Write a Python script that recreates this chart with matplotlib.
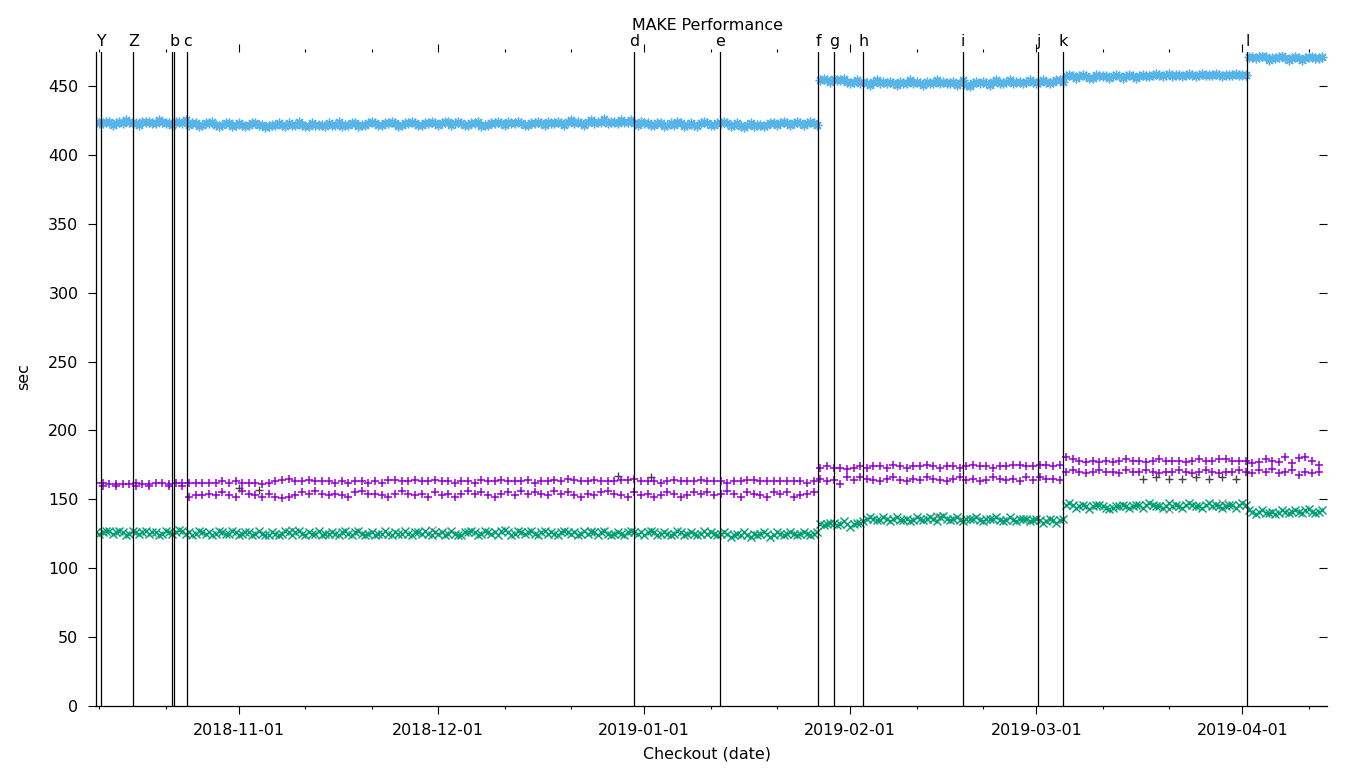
import numpy as np
import matplotlib
matplotlib.use('Agg')
import matplotlib.pyplot as plt
import matplotlib.dates as mdates
import pandas as pd

# two checkouts per day, 2018-10-10 .. 2019-04-12
dates = pd.date_range('2018-10-10 12:00', periods=185, freq='D')
dates2 = pd.date_range('2018-10-11 00:00', periods=185, freq='D')

# light blue series (*)
blue = [424, 423, 424, 423, 423, 424, 423, 424, 424, 423, 424, 423, 424, 423, 422, 423, 422, 423, 422, 422, 423, 422,
        422, 422, 423, 422, 421, 422, 422, 423, 422, 422, 421, 422, 422, 423, 422, 421, 422, 423, 422, 423, 423, 422, 423, 423, 422, 423, 423, 422, 423, 423,
        423, 424, 423, 423, 422, 423, 421, 422, 423, 423, 424, 423, 423, 422, 423, 423, 424, 423, 423, 424, 423, 423, 424, 423, 424, 423, 424, 425, 424, 423, 424,
        423, 422, 423, 422, 422, 423, 422, 422, 423, 423, 422, 423, 423, 422, 421, 422, 421, 422, 422, 423, 423, 423, 423, 423, 423, 423,
        454, 454, 455, 454, 453,
        453, 452, 452, 453, 452, 452, 452, 453, 452, 452, 452, 453, 452, 452, 452, 453, 452, 451, 452, 452, 452, 453, 452, 453, 452, 453, 453, 453,
        453, 453, 453, 454,
        457, 457, 457, 457, 456, 457, 457, 457, 457, 457, 457, 457, 457, 458, 458, 458, 457, 458, 458, 458, 458, 458, 458, 458, 458, 458, 458, 458,
        471, 471, 471, 470, 471, 470, 470, 470, 470, 471, 470]
blue2 = [423, 424, 422, 424, 425, 423, 422, 424, 423, 425, 423, 422, 424, 425, 423, 421, 423, 424, 421, 423, 421, 423,
         421, 423, 422, 420, 422, 423, 421, 422, 424, 421, 423, 422, 421, 422, 424, 422, 423, 421, 422, 424, 422, 423, 424, 421, 423, 424, 422, 423, 424, 422,
         424, 422, 424, 422, 423, 424, 422, 423, 424, 422, 423, 424, 422, 423, 424, 422, 423, 424, 422, 425, 424, 422, 425, 424, 426, 424, 423, 424, 425, 422, 423,
         422, 423, 421, 423, 424, 421, 423, 421, 424, 422, 423, 424, 421, 423, 420, 423, 422, 421, 423, 422, 424, 422, 424, 422, 424, 422,
         455, 453, 454, 455, 452, 454, 453, 451, 454, 453, 453, 451, 452, 454, 453, 451, 452, 454, 453, 452, 451, 454, 450, 453, 453, 451,
         454, 452, 454, 453, 452, 454, 452, 454, 452, 454, 453,
         458, 456, 458, 456, 458, 457, 456, 458, 456, 458, 456, 458, 457, 459, 457, 459, 458, 457, 459, 457, 459, 458, 459, 457, 458, 459, 458,
         471, 470, 472, 469, 470, 472, 469, 471, 469, 471, 470, 471]

# green series (x)
green = [126, 126, 127, 126, 126, 125, 126, 126, 125, 126, 125, 126, 126, 127, 126, 125, 126, 126, 125, 126, 125, 126,
         125, 126, 125, 125, 124, 125, 125, 126, 126, 125, 126, 125, 124, 125, 125, 126, 125, 126, 125, 125, 124, 125, 125, 126, 125, 125, 126, 125, 125, 126,
         126, 125, 125, 124, 126, 126, 125, 126, 126, 127, 126, 125, 126, 126, 125, 126, 125, 125, 126, 126, 126, 125, 125, 126, 126, 125, 125, 125, 126, 126, 126,
         126, 126, 125, 125, 125, 126, 125, 125, 125, 125, 125, 125, 125, 124, 124, 124, 125, 125, 125, 124, 125, 125, 125, 125, 125, 125,
         132, 132, 133, 132, 132,
         132, 133,
         136, 136, 135, 136, 136, 135, 136, 135, 136, 136, 136, 137, 136, 136, 135, 136, 136, 135, 136, 136, 135, 135, 135, 136, 136, 135,
         135, 134, 135, 135,
         146, 146, 145, 145, 145, 146, 144, 144, 145, 145, 145, 146, 146, 146, 145, 145, 145, 145, 146, 146, 145, 146, 145, 145, 145, 146, 146,
         146,
         141, 141, 140, 141, 140, 141, 141, 141, 142, 141, 141]
green2 = [125, 127, 125, 127, 124, 127, 125, 127, 126, 124, 127, 125, 128, 125, 124, 127, 125, 124, 127, 125, 127, 124,
          126, 124, 127, 124, 126, 124, 127, 124, 127, 124, 125, 127, 125, 126, 124, 127, 124, 127, 124, 126, 125, 127, 124, 125, 127, 124, 126, 127, 124, 125,
          124, 127, 124, 126, 127, 124, 127, 125, 124, 128, 124, 127, 125, 127, 124, 127, 126, 124, 127, 125, 124, 127, 126, 124, 127, 124, 126, 124, 127, 125, 124,
          127, 124, 126, 124, 127, 124, 126, 124, 127, 126, 124, 126, 123, 125, 126, 123, 124, 126, 123, 126, 124, 126, 124, 126, 124, 126,
          131, 133, 131, 134, 130, 133,
          134, 137, 135, 137, 134, 137, 135, 134, 137, 135, 137, 134, 138, 135, 137, 134, 136, 137, 134, 136, 137, 134, 137, 134, 136, 134, 136,
          133, 136, 133, 136,
          147, 144, 146, 143, 146, 145, 143, 145, 146, 144, 146, 144, 147, 145, 144, 147, 146, 144, 147, 145, 144, 147, 146, 144, 146, 144, 147,
          142, 139, 142, 140, 139, 142, 140, 142, 140, 143, 140, 142]

# purple series (+), upper and lower bands
purple_hi = [162, 162, 161, 161, 161, 161, 162, 161, 161, 162, 162, 161, 162, 162, 162, 162, 162, 162, 162, 163, 162, 163,
             162, 162, 162, 161, 162, 163, 164, 165, 163, 163, 164, 163, 163, 163, 162, 163, 162, 163, 163, 162, 163, 162, 164, 164, 163, 163, 164, 163, 163, 164,
             163, 163, 162, 163, 163, 162, 164, 163, 163, 164, 163, 163, 163, 164, 162, 163, 163, 164, 163, 165, 164, 163, 163, 164, 163, 163, 163, 164, 164, 165, 163,
             163, 163, 162, 163, 164, 163, 163, 163, 164, 163, 163, 163, 162, 163, 163, 164, 164, 163, 163, 163, 163, 163, 163, 163, 162, 163,
             173, 174, 173, 173, 172,
             173, 174,
             173, 174, 174, 173, 175, 174, 173, 174, 174, 175, 174, 173, 174, 174, 173, 174, 175, 174, 174, 173, 174, 174, 175, 175, 174, 174,
             175, 175, 174, 175,
             181, 179, 178, 177, 178, 177, 178, 177, 178, 179, 178, 178, 177, 178, 179, 178, 178, 178, 177, 178, 179, 178, 178, 179, 179, 178, 178,
             178,
             176, 177, 179, 178, 177, 181, 176, 180, 181, 178, 175]

nan = np.nan
purple_lo = [nan, 160, nan, 160, nan, nan, 160, nan, 160, nan, nan, 160, nan, 160,
             152, 153, 153, 154, 153, 155, 153, 152,
             156, 154, 153, 152, 154, 152, 151, 152, 153, 155, 154, 156, 154, 153, 154, 153, 152, 155, 156, 154, 154, 153, 152, 154, 156, 154, 153, 154, 152, 155,
             153, 154, 152, 154, 156, 154, 155, 153, 152, 154, 155, 153, 156, 154, 155, 154, 153, 156, 154, 155, 153, 152, 154, 153, 155, 156, 154, 153, 152, 155, 153,
             154, 152, 153, 155, 154, 152, 153, 155, 154, 155, 153, 154, 156, 154, 152, 155, 154, 153, 152, 155, 154, 155, 152, 153, 154, 155,
             165, 163, 164, 161, 166,
             164, 166,
             165, 164, 163, 165, 166, 164, 163, 165, 164, 166, 165, 164, 163, 165, 166, 164, 165, 163, 164, 166, 165, 164, 165, 163, 166, 164,
             166, 165, 165, 164,
             170, 171, 170, 169, 170, 171, 170, 170, 169, 171, 170, 170, 171, 170, 169, 170, 170, 171, 170, 169, 170, 171, 170, 169, 170, 170, 171,
             170,
             169, 171, 170, 172, 169, 170, 171, 168, 170, 169, 170]

# a few runs from a second machine, drawn underneath
dark_dates = ['2018-11-01', '2018-11-04', '2018-12-28', '2019-01-02', '2019-03-17', '2019-03-19', '2019-03-21',
              '2019-03-23', '2019-03-25', '2019-03-27', '2019-03-29', '2019-03-31']
dark_vals = [158, 157, 167, 166, 165, 166, 165, 165, 166, 165, 166, 165]
grey_dates = ['2018-11-09', '2018-11-30', '2018-12-24', '2019-02-14', '2019-03-21', '2019-03-29']
grey_vals = [128, 128, 127, 138, 143, 147]

# marked checkouts
event_labels = ['Y', 'Z', '', 'b', 'c', 'd', 'e', 'f', 'g', 'h', 'i', 'j', 'k', 'l']
event_dates = ['2018-10-11 05:00', '2018-10-16 03:00', '2018-10-22 00:00', '2018-10-22 07:00', '2018-10-24 06:00',
               '2018-12-30 12:00', '2019-01-12 11:00', '2019-01-27 05:00', '2019-01-29 14:00', '2019-02-02 23:00',
               '2019-02-18 00:00', '2019-03-01 07:00', '2019-03-05 01:00', '2019-04-01 18:00']

FS = 11.4
fig = plt.figure(figsize=(13.6, 7.68), dpi=100)
ax = fig.add_axes([95.7 / 1360, 1 - 706 / 768, (1326.7 - 95.7) / 1360, (706 - 51.5) / 768])

ax.plot(pd.to_datetime(dark_dates), dark_vals, ls='none', marker='+', ms=5.5, mew=1.0, color='#444444', zorder=1)
ax.plot(pd.to_datetime(grey_dates), grey_vals, ls='none', marker='x', ms=5.5, mew=1.0, color='#999999', zorder=1)
ax.plot(dates, purple_hi, ls='none', marker='+', ms=5.5, mew=1.1, color='#9400D3', zorder=2)
ax.plot(dates, purple_lo, ls='none', marker='+', ms=5.5, mew=1.1, color='#9400D3', zorder=2)
ax.plot(dates, green, ls='none', marker='x', ms=5.5, mew=1.0, color='#009E73', zorder=2)
ax.plot(dates2, green2, ls='none', marker='x', ms=5.5, mew=1.0, color='#009E73', zorder=2)
ax.plot(dates, blue, ls='none', marker=(8, 2, 0), ms=7, mew=1.0, color='#56B4E9', zorder=2)
ax.plot(dates2, blue2, ls='none', marker=(8, 2, 0), ms=7, mew=1.0, color='#56B4E9', zorder=2)

for lbl, d in zip(event_labels, event_dates):
    t = pd.Timestamp(d)
    ax.axvline(t, color='black', lw=0.9, zorder=3)
    if lbl:
        ax.annotate(lbl, xy=(t, 1), xycoords=('data', 'axes fraction'), xytext=(0, 4.3),
                    textcoords='offset points', ha='center', va='baseline', fontsize=FS)

ax.set_xlim(pd.Timestamp('2018-10-10 11:00'), pd.Timestamp('2019-04-13 17:00'))
ax.set_ylim(0, 475)
ax.set_yticks(np.arange(0, 451, 50))
ax.xaxis.set_major_locator(mdates.MonthLocator())
ax.xaxis.set_minor_locator(mdates.DayLocator(bymonthday=[11, 21]))
ax.xaxis.set_major_formatter(mdates.DateFormatter('%Y-%m-%d'))

for s in ['top', 'right']:
    ax.spines[s].set_visible(False)
for s in ['left', 'bottom']:
    ax.spines[s].set_linewidth(0.9)

ax.tick_params(axis='x', which='major', direction='out', length=5.5, width=0.8, top=True, labelsize=FS, pad=6.5)
ax.tick_params(axis='x', which='minor', direction='out', length=2.5, width=0.8, top=True)
ax.tick_params(axis='y', which='major', direction='out', length=5.5, width=0.8, labelsize=FS, pad=7)

sec = ax.secondary_yaxis('right')
sec.set_yticks(np.arange(0, 451, 50))
sec.tick_params(direction='in', length=5.5, width=0.8, labelright=False)
sec.spines['right'].set_visible(False)

fig.text(707 / 1360, 1 - 30 / 768, 'MAKE Performance', ha='center', va='baseline', fontsize=FS)
fig.text(707 / 1360, 1 - 754 / 768, 'Checkout (date)', ha='center', va='center', fontsize=FS)
fig.text(24 / 1360, 1 - 377 / 768, 'sec', ha='center', va='center', rotation=90, fontsize=FS)

fig.savefig('out.png', dpi=100)
